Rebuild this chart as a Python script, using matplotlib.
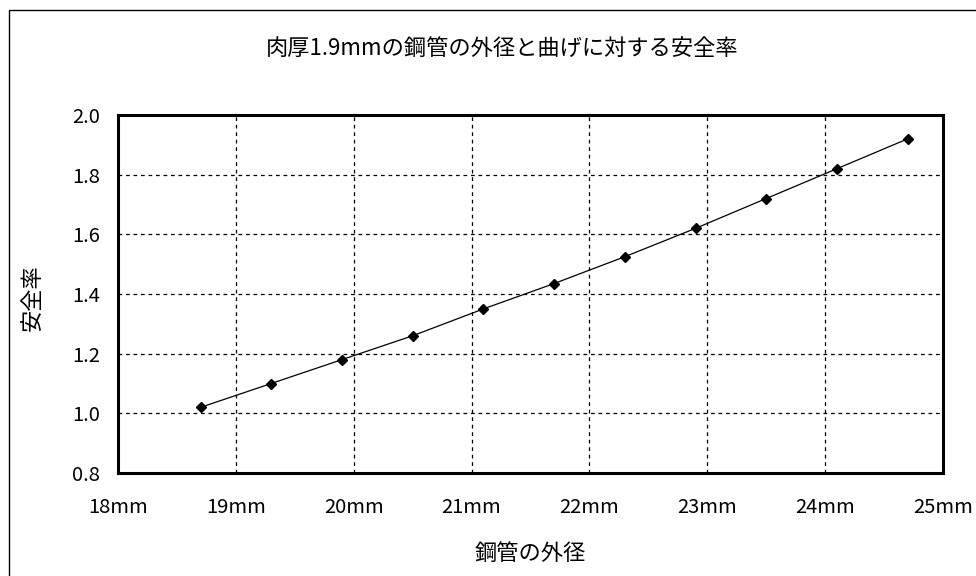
import matplotlib
matplotlib.use("Agg")
import matplotlib.pyplot as plt
from matplotlib.patches import Rectangle

plt.rcParams['font.family'] = ['Noto Sans CJK JP', 'DejaVu Sans']

# Data
diameters = [18.7, 19.3, 19.9, 20.5, 21.1, 21.7, 22.3, 22.9, 23.5, 24.1, 24.7]
safety = [1.02, 1.10, 1.18, 1.26, 1.35, 1.435, 1.525, 1.62, 1.72, 1.82, 1.92]
x_ticks = [18, 19, 20, 21, 22, 23, 24, 25]
x_ticklabels = [f"{v}mm" for v in x_ticks]
y_ticks = [0.8, 1.0, 1.2, 1.4, 1.6, 1.8, 2.0]
y_ticklabels = [f"{v:.1f}" for v in y_ticks]

title = "肉厚1.9mmの鋼管の外径と曲げに対する安全率"
xlabel = "鋼管の外径"
ylabel = "安全率"

W, H = 976, 576
fig = plt.figure(figsize=(W / 100, H / 100), dpi=100)

# outer frame (cut at right/bottom like the reference)
fig.patches.append(Rectangle((9 / W, -0.1), 1.2, 1 - 10 / H + 0.1,
                             transform=fig.transFigure, fill=False,
                             edgecolor='black', linewidth=1.0))

ax = fig.add_axes([118 / W, 1 - 473 / H, (943 - 118) / W, (473 - 115) / H])
ax.plot(diameters, safety, color='black', linewidth=0.9,
        marker='D', markersize=5.5, markerfacecolor='black', markeredgecolor='black')

ax.set_xlim(18, 25)
ax.set_ylim(0.8, 2.0)
ax.set_xticks(x_ticks)
ax.set_xticklabels(x_ticklabels)
ax.set_yticks(y_ticks)
ax.set_yticklabels(y_ticklabels)
ax.tick_params(axis='both', length=0, labelsize=14.5, colors='black')
ax.tick_params(axis='x', pad=17)
ax.tick_params(axis='y', pad=13)
ax.grid(True, color='black', linestyle=(0, (3, 3)), linewidth=0.9)
for s in ax.spines.values():
    s.set_linewidth(2.2)
    s.set_color('black')

fig.text(502 / W, 1 - 48 / H, title, ha='center', va='center', fontsize=16)
fig.text(530 / W, 1 - 553 / H, xlabel, ha='center', va='center', fontsize=16)
fig.text(32 / W, 1 - 298 / H, ylabel, ha='center', va='center', fontsize=16, rotation=90)

fig.savefig("out.png", dpi=100, facecolor='white')
